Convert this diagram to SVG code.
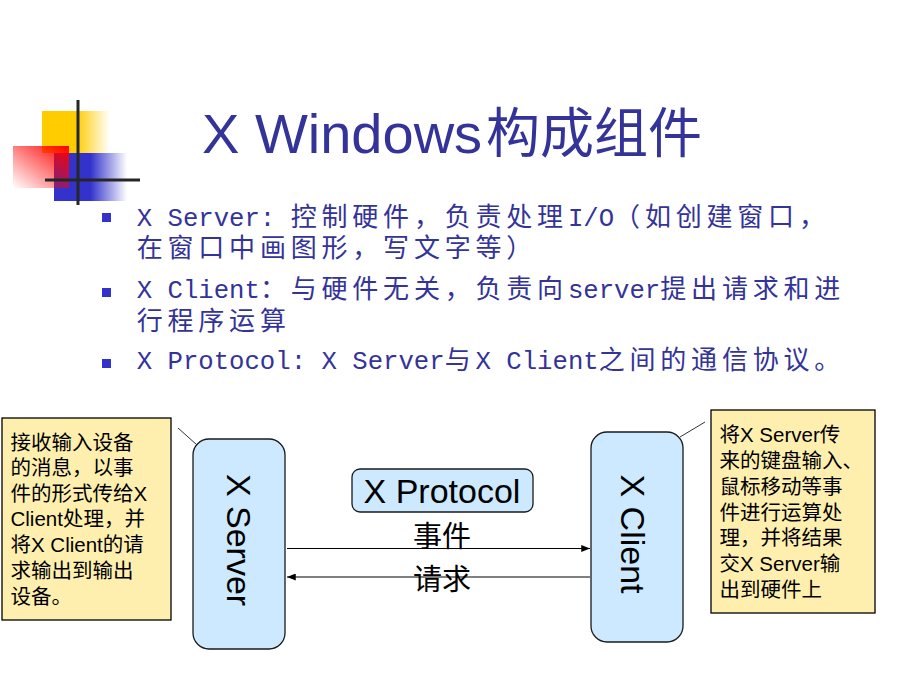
<svg xmlns="http://www.w3.org/2000/svg" width="920" height="690" viewBox="0 0 920 690">
  <style>
    .title { font-family: "Liberation Sans", "Noto Sans CJK SC", sans-serif; font-size: 56px; fill: #333399; }
    .lat { font-family: "Liberation Mono", monospace; font-size: 25.67px; }
    .cjk { font-family: "Noto Sans CJK SC", sans-serif; font-size: 26px; letter-spacing: 4.8px; }
    .body { fill: #333399; }
    .bullet { fill: #3333CC; }
    .node { fill: #CCE9FF; stroke: #1a1a1a; stroke-width: 1.3; }
    .node-text { font-family: "Liberation Sans", sans-serif; font-size: 34px; fill: #000; }
    .note { fill: #FFEFAF; stroke: #000; stroke-width: 1.3; }
    .note-text { font-family: "Liberation Sans", "Noto Sans CJK SC", sans-serif; font-size: 20.5px; fill: #000; }
    .lbl { font-family: "Noto Sans CJK SC", sans-serif; font-size: 29px; fill: #000; text-anchor: middle; }
    .conn { stroke: #000; stroke-width: 1; fill: none; }
    .leader { stroke: #333; stroke-width: 1; fill: none; }
  </style>
  <defs>
    <linearGradient id="gYellow" x1="0" y1="0" x2="1" y2="0">
      <stop offset="0" stop-color="#FFCC00"/>
      <stop offset="0.5" stop-color="#FFCC00"/>
      <stop offset="1" stop-color="#FFCC00" stop-opacity="0"/>
    </linearGradient>
    <linearGradient id="gBlue" x1="0" y1="0" x2="1" y2="0">
      <stop offset="0" stop-color="#3333CC"/>
      <stop offset="0.5" stop-color="#3333CC"/>
      <stop offset="1" stop-color="#3333CC" stop-opacity="0"/>
    </linearGradient>
    <linearGradient id="gRed" x1="1" y1="0" x2="0" y2="1">
      <stop offset="0" stop-color="#FF0000"/>
      <stop offset="1" stop-color="#FF0000" stop-opacity="0"/>
    </linearGradient>
    <marker id="arrow" viewBox="0 0 10 8" refX="10" refY="4" markerWidth="9" markerHeight="7" markerUnits="userSpaceOnUse" orient="auto">
      <path d="M0,0 L10,4 L0,8 z" fill="#000"/>
    </marker>
  </defs>

  <rect width="920" height="690" fill="#FFFFFF"/>

  <g id="logo">
    <rect x="42" y="111" width="68" height="42" fill="url(#gYellow)"/>
    <rect x="54" y="153" width="73" height="48" fill="url(#gBlue)"/>
    <rect x="13" y="146" width="56" height="42" fill="url(#gRed)"/>
    <line x1="78" y1="100" x2="78" y2="205" stroke="#262626" stroke-width="3"/>
    <line x1="45" y1="180" x2="140" y2="180" stroke="#262626" stroke-width="3"/>
  </g>

  <g id="title">
    <text class="title" x="202" y="153">X Windows<tspan font-size="54px" dx="4">构成组件</tspan></text>
  </g>

  <g id="bullets" class="body">
    <rect class="bullet" x="102" y="213" width="9" height="9"/>
    <rect class="bullet" x="102" y="288" width="9" height="9"/>
    <rect class="bullet" x="102" y="359" width="9" height="9"/>
    <text y="226">
      <tspan class="lat" x="136.7">X Server:</tspan><tspan class="cjk" x="290.7">控制硬件，负责处理</tspan><tspan class="lat" x="567.9">I/O</tspan><tspan class="cjk" x="614.1">（如创建窗口，</tspan>
    </text>
    <text y="257">
      <tspan class="cjk" x="136.7">在窗口中画图形，写文字等）</tspan>
    </text>
    <text y="298">
      <tspan class="lat" x="136.7">X Client</tspan><tspan class="cjk" x="259.9">：与硬件无关，负责向</tspan><tspan class="lat" x="567.9">server</tspan><tspan class="cjk" x="660.3">提出请求和进</tspan>
    </text>
    <text y="330">
      <tspan class="cjk" x="136.7">行程序运算</tspan>
    </text>
    <text y="369">
      <tspan class="lat" x="136.7">X Protocol: X Server</tspan><tspan class="cjk" x="444.7">与</tspan><tspan class="lat" x="475.5">X Client</tspan><tspan class="cjk" x="598.7">之间的通信协议。</tspan>
    </text>
  </g>

  <g id="connectors">
    <line class="leader" x1="178" y1="428" x2="197" y2="445"/>
    <line class="leader" x1="705" y1="422" x2="680" y2="437"/>
    <line class="conn" x1="287" y1="548.5" x2="590" y2="548.5" marker-end="url(#arrow)"/>
    <line class="conn" x1="590" y1="577" x2="287" y2="577" marker-end="url(#arrow)"/>
  </g>

  <g id="note-server">
    <rect class="note" x="2" y="418" width="169" height="202"/>
    <text class="note-text" x="10.5">
      <tspan x="10.5" y="449.5">接收输入设备</tspan>
      <tspan x="10.5" y="475">的消息，以事</tspan>
      <tspan x="10.5" y="500.5">件的形式传给X</tspan>
      <tspan x="10.5" y="526">Client处理，并</tspan>
      <tspan x="10.5" y="552">将X Client的请</tspan>
      <tspan x="10.5" y="578">求输出到输出</tspan>
      <tspan x="10.5" y="604">设备。</tspan>
    </text>
  </g>

  <g id="x-server">
    <rect class="node" x="193" y="439" width="92" height="210" rx="16" ry="16"/>
    <text class="node-text" text-anchor="middle" transform="translate(226.5,540) rotate(90)">X Server</text>
  </g>

  <g id="x-protocol">
    <rect class="node" x="352" y="469" width="181" height="43" rx="8" ry="8"/>
    <text class="node-text" x="442" y="503" text-anchor="middle">X Protocol</text>
  </g>

  <g id="labels">
    <text class="lbl" x="442" y="547">事件</text>
    <text class="lbl" x="442" y="590">请求</text>
  </g>

  <g id="x-client">
    <rect class="node" x="591" y="432" width="92" height="210" rx="16" ry="16"/>
    <text class="node-text" text-anchor="middle" transform="translate(621,534) rotate(90)">X Client</text>
  </g>

  <g id="note-client">
    <rect class="note" x="711" y="410" width="164" height="203"/>
    <text class="note-text">
      <tspan x="719.5" y="442">将X Server传</tspan>
      <tspan x="719.5" y="468">来的键盘输入、</tspan>
      <tspan x="719.5" y="494">鼠标移动等事</tspan>
      <tspan x="719.5" y="519.5">件进行运算处</tspan>
      <tspan x="719.5" y="545">理，并将结果</tspan>
      <tspan x="719.5" y="571">交X Server输</tspan>
      <tspan x="719.5" y="597">出到硬件上</tspan>
    </text>
  </g>
</svg>
